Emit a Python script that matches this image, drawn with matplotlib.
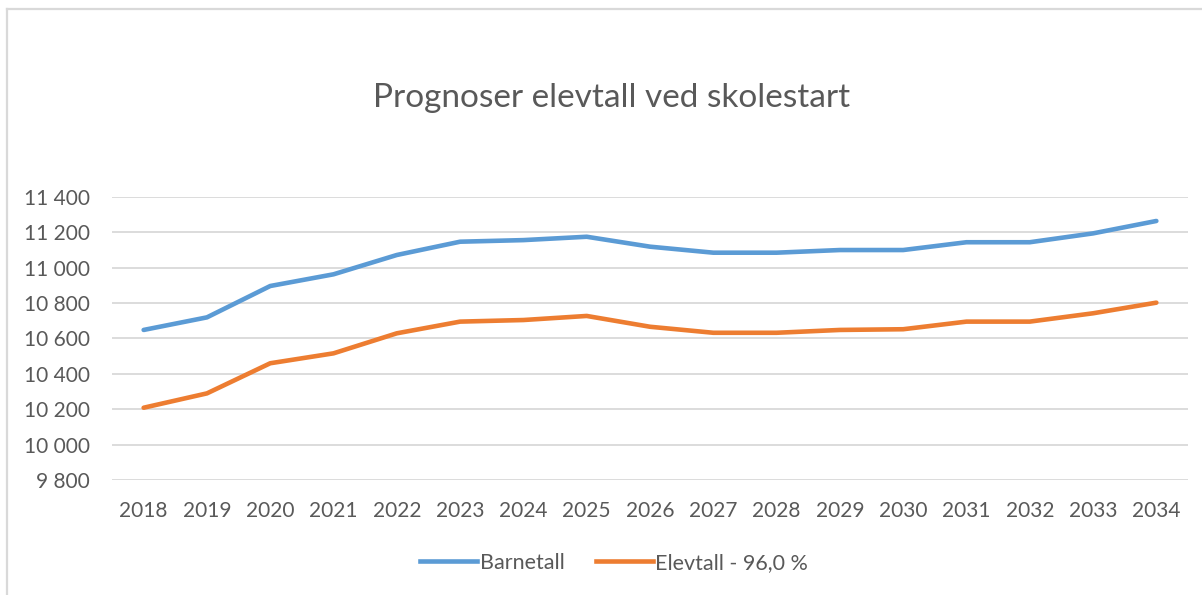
import matplotlib
matplotlib.use("Agg")
import matplotlib.pyplot as plt
from matplotlib.lines import Line2D
from matplotlib.ticker import FuncFormatter

# --- data ---
years = [str(y) for y in range(2018, 2035)]
barnetall = [10648, 10719, 10896, 10962, 11071, 11146, 11155, 11174, 11118,
             11084, 11084, 11099, 11099, 11143, 11143, 11193, 11263]
elevtall = [10209, 10290, 10460, 10516, 10629, 10695, 10704, 10727, 10666,
            10632, 10632, 10648, 10652, 10695, 10695, 10742, 10802]
yticks = list(range(9800, 11401, 200))

title = "Prognoser elevtall ved skolestart"
label_blue = "Barnetall"
label_orange = "Elevtall - 96,0 %"

BLUE = "#5B9BD5"
ORANGE = "#ED7D31"
GRID = "#D9D9D9"
TEXT = "#595959"

plt.rcParams['font.family'] = ['Lato', 'DejaVu Sans']

W, H = 1202, 595
fig = plt.figure(figsize=(W / 100, H / 100), dpi=100)

# axes placed by pixel box
left, right, top, bottom = 112, 1188, 196.7, 480.2
ax = fig.add_axes([left / W, 1 - bottom / H, (right - left) / W, (bottom - top) / H])

x = list(range(len(years)))
ax.plot(x, barnetall, color=BLUE, lw=3.3, solid_capstyle='round', zorder=3)
ax.plot(x, elevtall, color=ORANGE, lw=3.3, solid_capstyle='round', zorder=3)

ax.set_xlim(-0.5, len(years) - 0.5)
ax.set_ylim(yticks[0], yticks[-1])
ax.set_yticks(yticks)
ax.yaxis.set_major_formatter(FuncFormatter(lambda v, p: f"{int(v):,}".replace(",", " ")))
ax.set_xticks(x)
ax.set_xticklabels(years)
ax.grid(axis='y', color=GRID, lw=1.3, zorder=0)
ax.grid(axis='x', visible=False)
for s in ax.spines.values():
    s.set_visible(False)
ax.tick_params(axis='both', length=0, labelsize=15, labelcolor=TEXT)
ax.tick_params(axis='x', pad=15)
ax.tick_params(axis='y', pad=16)

fig.text(612 / W, 1 - 98 / H, title, ha='center', va='center', fontsize=24, color=TEXT)

handles = [Line2D([], [], color=BLUE, lw=3.3), Line2D([], [], color=ORANGE, lw=3.3)]
fig.legend(handles, [label_blue, label_orange], loc='center', bbox_to_anchor=(614 / W, 1 - 563 / H),
           ncol=2, frameon=False, fontsize=15.5, labelcolor=TEXT, handlelength=2.65,
           handletextpad=0.12, columnspacing=1.45)

# chart border (only left and top edges are visible in the crop)
fig.add_artist(Line2D([7 / W, 7 / W], [0, 1 - 9 / H], color=GRID, lw=1.6, transform=fig.transFigure))
fig.add_artist(Line2D([7 / W, 1], [1 - 9 / H, 1 - 9 / H], color=GRID, lw=1.6, transform=fig.transFigure))

fig.savefig("out.png", dpi=100, facecolor='white')
